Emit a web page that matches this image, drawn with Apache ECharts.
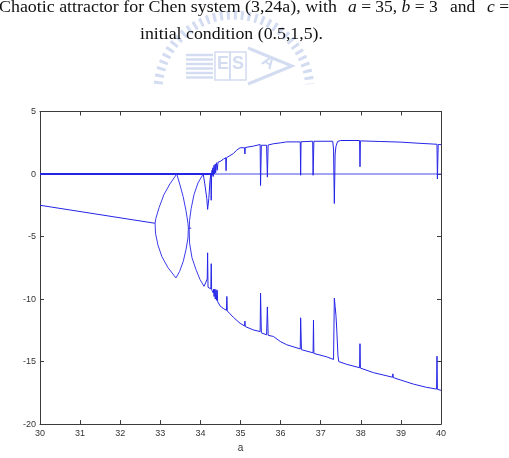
<!DOCTYPE html>
<html><head><meta charset="utf-8">
<script src="https://cdn.jsdelivr.net/npm/echarts@6/dist/echarts.min.js"></script>
<style>html,body{margin:0;padding:0;background:#fff}#c{width:509px;height:458px}</style>
</head><body><div id="c"></div>
<script>
// ---- data (a, value) ----
const xTicks = [30,31,32,33,34,35,36,37,38,39,40];
const yTicks = [-20,-15,-10,-5,0,5];
const zeroLineLeft = [[30,0],[34.3,0]];
const zeroLineRight = [[34.3,0],[40,0]];
const preBranch = [[30,-2.5],[32.87,-3.94]];
const lens1Left = [[33.41,0],[33.24,-0.79],[33.09,-1.65],[32.97,-2.68],[32.89,-3.54],[32.87,-3.94],[32.88,-4.72],[32.94,-5.67],[33.04,-6.61],[33.19,-7.48],[33.39,-8.31]];
const lens1Right = [[33.41,0],[33.49,-0.87],[33.57,-1.81],[33.64,-2.91],[33.69,-3.94],[33.70,-4.33],[33.69,-5.12],[33.64,-6.06],[33.57,-7.01],[33.48,-7.80],[33.39,-8.31]];
const connector = [[33.70,-4.33],[33.77,-4.33]];
const lens2Left = [[34.07,0],[33.94,-0.71],[33.84,-1.65],[33.77,-2.76],[33.73,-3.70],[33.72,-4.49],[33.73,-5.51],[33.79,-6.69],[33.89,-7.64],[33.99,-8.43],[34.09,-8.98]];
const lens2Right = [[34.07,0],[34.11,-0.79],[34.16,-1.97],[34.18,-2.83],[34.20,-2.83],[34.21,-1.97],[34.24,-0.5],[34.26,-0.05],[34.27,-2.1],[34.28,0]];
const upperBranch = [[34.28,0],[34.29,0.3],[34.30,-0.1],[34.31,0.5],[34.32,-0.2],[34.34,0.7],[34.35,0],[34.37,0.8],[34.38,0.1],[34.40,0.9],[34.42,0.3],[34.44,0.95],[34.49,1.0],[34.57,1.18],[34.63,1.3],[34.64,0.26],[34.65,1.3],[34.82,1.63],[34.9,1.9],[34.99,2.1],[35.1,2.1],[35.11,1.6],[35.12,2.12],[35.32,2.23],[35.49,2.36],[35.50,-0.92],[35.52,2.3],[35.65,2.3],[35.67,-0.25],[35.69,2.32],[35.82,2.42],[35.99,2.49],[36.15,2.57],[36.49,2.57],[36.50,-0.1],[36.51,2.58],[36.8,2.62],[36.81,-0.1],[36.83,2.62],[37.30,2.62],[37.32,2.0],[37.34,-2.36],[37.36,1.6],[37.38,2.2],[37.42,2.6],[37.5,2.68],[37.97,2.68],[37.98,0.58],[37.99,2.65],[38.5,2.6],[39.0,2.55],[39.5,2.45],[39.9,2.38],[39.91,-0.4],[39.93,2.36],[40,2.35]];
const lowerBranch = [[34.09,-8.98],[34.13,-8.7],[34.17,-8.4],[34.18,-6.3],[34.19,-9.06],[34.26,-9.19],[34.27,-7.17],[34.28,-9.25],[34.32,-9.5],[34.33,-9.2],[34.34,-9.8],[34.36,-9.2],[34.37,-10.0],[34.39,-9.25],[34.40,-10.1],[34.42,-9.3],[34.43,-10.2],[34.49,-10.55],[34.57,-10.75],[34.65,-10.9],[34.66,-9.79],[34.67,-10.95],[34.82,-11.45],[34.99,-11.94],[35.10,-12.15],[35.11,-11.76],[35.12,-12.2],[35.32,-12.47],[35.49,-12.6],[35.50,-9.53],[35.52,-12.7],[35.65,-12.86],[35.67,-10.63],[35.69,-12.9],[35.82,-12.99],[35.99,-13.39],[36.15,-13.65],[36.49,-13.99],[36.50,-11.5],[36.52,-14.05],[36.81,-14.3],[36.82,-11.68],[36.83,-14.35],[37.15,-14.62],[37.32,-14.83],[37.34,-9.92],[37.36,-10.6],[37.38,-11.3],[37.40,-12.4],[37.43,-14.5],[37.45,-15.0],[37.65,-15.22],[37.97,-15.49],[37.98,-13.57],[37.99,-15.52],[38.31,-15.88],[38.65,-16.14],[38.79,-16.25],[38.80,-15.98],[38.81,-16.28],[38.98,-16.46],[39.31,-16.8],[39.64,-17.06],[39.89,-17.2],[39.90,-14.57],[39.91,-17.22],[40,-17.3]];
const titlePart1 = 'Chaotic attractor for Chen system (3,24a), with';
const titlePart2 = '{i|a} = 35, {i|b} = 3';
const titlePart3 = 'and';
const titlePart4 = '{i|c} =';
const titleLine2 = 'initial condition (0.5,1,5).';
const xName = 'a';

// ---- chart ----
const BLUE = '#2424e6';
const FS = 17.5;
const FONT = FS + 'px "Liberation Serif"';
const IFONT = 'italic ' + FS + 'px "Liberation Serif"';
const mctx = document.createElement('canvas').getContext('2d');
function fitScale(text, target){ mctx.font = FONT; return target / mctx.measureText(text).width; }

const chart = echarts.init(document.getElementById('c'), null, {renderer:'canvas'});
function ln(data, w, color){ return {type:'line', data, showSymbol:false, symbol:'none', animation:false, lineStyle:{color:color||BLUE, width:w||1}, z:3}; }
const axisCol = '#3a3a3a';
const tickLabel = {color:'#333', fontSize:9, fontFamily:'Liberation Sans'};
const WM = '#d3dcf0';
const wmStripes = [];
for (let i=0;i<6;i++) wmStripes.push({type:'line', shape:{x1:186,y1:55+i*4.5,x2:213,y2:55+i*4.5}, style:{stroke:WM, lineWidth:2.5}, z:0});
const rich = {i:{font:IFONT, fill:'#111'}};
function tText(text, x, y, sx){ return {type:'text', x, y, scaleX:sx||1, style:{text, font:FONT, fill:'#111', rich}, z:5}; }
chart.setOption({
  animation:false,
  grid:{left:40, right:68, top:111.5, bottom:29, containLabel:false},
  xAxis:[
    {type:'value', min:30, max:40, interval:1, position:'bottom', name:xName, nameLocation:'middle', nameGap:18,
     nameTextStyle:{color:'#333', fontSize:10, fontFamily:'Liberation Sans'},
     axisLine:{show:true, onZero:false, lineStyle:{color:axisCol, width:1}},
     axisTick:{show:true, inside:true, length:4, lineStyle:{color:axisCol}},
     axisLabel:Object.assign({margin:5, formatter:v=>String(v)}, tickLabel), splitLine:{show:false}},
    {type:'value', min:30, max:40, interval:1, position:'top',
     axisLine:{show:true, onZero:false, lineStyle:{color:axisCol, width:1}},
     axisTick:{show:true, inside:true, length:4, lineStyle:{color:axisCol}},
     axisLabel:{show:false}, splitLine:{show:false}}
  ],
  yAxis:[
    {type:'value', min:-20, max:5, interval:5, position:'left',
     axisLine:{show:true, onZero:false, lineStyle:{color:axisCol, width:1}},
     axisTick:{show:true, inside:true, length:4, lineStyle:{color:axisCol}},
     axisLabel:Object.assign({margin:4}, tickLabel), splitLine:{show:false}},
    {type:'value', min:-20, max:5, interval:5, position:'right',
     axisLine:{show:true, onZero:false, lineStyle:{color:axisCol, width:1}},
     axisTick:{show:true, inside:true, length:4, lineStyle:{color:axisCol}},
     axisLabel:{show:false}, splitLine:{show:false}}
  ],
  series:[
    ln(zeroLineLeft, 2),
    ln(zeroLineRight, 1.2, '#4a4af0'),
    ln(preBranch, 1),
    ln(lens1Left, 1, '#3a3aea'),
    ln(lens1Right, 1, '#3a3aea'),
    ln(connector, 1),
    ln(lens2Left, 1, '#3a3aea'),
    ln(lens2Right, 1),
    ln(upperBranch, 1),
    ln(lowerBranch, 1)
  ],
  graphic:[
    {type:'arc', shape:{cx:234, cy:91, r:76, startAngle:-3.05, endAngle:-0.09}, style:{stroke:WM, lineWidth:9, lineDash:[3,4], fill:null}, z:0},
    ...wmStripes,
    {type:'rect', shape:{x:215,y:52,width:15,height:28}, style:{stroke:WM, lineWidth:1.5, fill:null}, z:0},
    {type:'rect', shape:{x:230,y:52,width:16,height:28}, style:{stroke:WM, lineWidth:1.5, fill:null}, z:0},
    {type:'text', x:217, y:55, style:{text:'E', font:'bold 18px Liberation Sans', fill:WM}, z:0},
    {type:'text', x:232, y:55, style:{text:'S', font:'bold 18px Liberation Sans', fill:WM}, z:0},
    {type:'polyline', shape:{points:[[248,48],[292,66],[248,84]]}, style:{stroke:WM, lineWidth:3, fill:null}, z:0},
    {type:'text', x:268, y:52, rotation:-0.6, style:{text:'A', font:'bold 17px Liberation Sans', fill:WM}, z:0},
    tText(titlePart1, -1, -2, fitScale(titlePart1, 338)),
    tText(titlePart2, 348, -2),
    tText(titlePart3, 450, -2),
    tText(titlePart4, 487, -2),
    tText(titleLine2, 140, 25, fitScale(titleLine2, 183))
  ]
});
</script></body></html>
